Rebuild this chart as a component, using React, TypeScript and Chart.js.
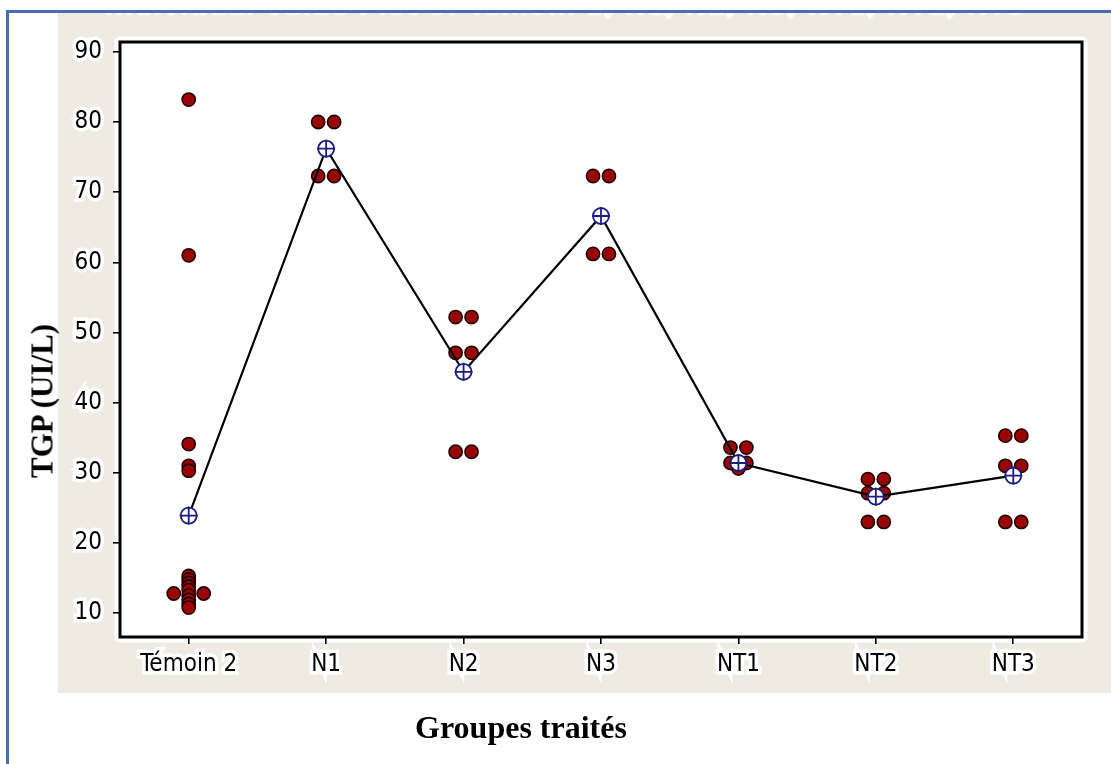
import React, { useEffect, useRef } from "react";
import { Chart, registerables } from "chart.js";

Chart.register(...registerables);

// Column names (one column per treated group)
const groups = ["Témoin 2", "N1", "N2", "N3", "NT1", "NT2", "NT3"];

// Individual TGP values (UI/L) per group
const temoin2 = [83.2, 61.0, 34.1, 31.0, 30.3, 15.3, 14.8, 14.3, 13.8, 13.3, 12.8, 12.8, 12.5, 11.9, 11.3, 10.8];
const n1 = [80.0, 80.0, 72.3, 72.3];
const n2 = [52.2, 52.2, 47.1, 47.1, 33.0, 33.0];
const n3 = [72.3, 72.3, 61.2, 61.2];
const nt1 = [33.6, 33.6, 31.4, 31.4, 30.6];
const nt2 = [29.1, 29.1, 27.1, 27.1, 23.0, 23.0];
const nt3 = [35.3, 35.3, 31.0, 31.0, 23.0, 23.0];

// Group means joined by the connect line
const groupMeans = [23.9, 76.2, 44.4, 66.6, 31.4, 26.6, 29.6];

// Axis
const yTicks = [10, 20, 30, 40, 50, 60, 70, 80, 90];
const yMin = 6.6;
const yMax = 91.4;

const groupValues = [temoin2, n1, n2, n3, nt1, nt2, nt3];

// Horizontal spread for tied values (in category units)
const NARROW = 0.058;
const WIDE = 0.109;

function spreadGroup(values: number[], gi: number) {
  const counts = new Map<number, number>();
  values.forEach((v) => counts.set(v, (counts.get(v) || 0) + 1));
  const singles = values.filter((v) => counts.get(v) === 1);
  const seen = new Map<number, number>();
  return values.map((v) => {
    const n = counts.get(v) as number;
    if (n === 1) return { x: gi, y: v };
    const k = seen.get(v) || 0;
    seen.set(v, k + 1);
    const crowded = singles.filter((s) => Math.abs(s - v) < 3).length >= 2;
    const step = crowded ? WIDE : NARROW;
    return { x: gi + (k - (n - 1) / 2) * 2 * step, y: v };
  });
}

const TICK_FONT = "'DejaVu Sans Condensed', Roboto, 'DejaVu Sans', sans-serif";
const SERIF = "'Liberation Serif', 'Times New Roman', serif";
const BEIGE = "#efebe2";
const NAVY = "#1c1c82";

const plotFrame = {
  id: "plotFrame",
  beforeDraw(chart: any) {
    const { ctx, chartArea } = chart;
    const { left, top, right, bottom } = chartArea;
    ctx.save();
    ctx.lineJoin = "round";
    ctx.strokeStyle = "#ffffff";
    ctx.lineWidth = 11;
    ctx.strokeRect(left, top, right - left, bottom - top);
    ctx.fillStyle = "#ffffff";
    ctx.fillRect(left, top, right - left, bottom - top);
    ctx.restore();
  },
  afterDraw(chart: any) {
    const { ctx, chartArea } = chart;
    const { left, top, right, bottom } = chartArea;
    ctx.save();
    ctx.strokeStyle = "#000000";
    ctx.lineWidth = 3;
    ctx.strokeRect(left, top, right - left, bottom - top);
    ctx.restore();
  },
};

function IndividualValuePlot() {
  const canvasRef = useRef<HTMLCanvasElement | null>(null);

  useEffect(() => {
    const canvas = canvasRef.current;
    if (!canvas) return;

    const points = groupValues.flatMap((vals, gi) => spreadGroup(vals, gi));
    const means = groupMeans.map((m, i) => ({ x: i, y: m }));

    const chart = new Chart(canvas, {
      type: "scatter",
      data: {
        datasets: [
          {
            label: "Mean cross",
            data: means,
            pointStyle: "cross",
            pointRadius: 9,
            borderColor: NAVY,
            borderWidth: 1.8,
            order: 0,
          },
          {
            label: "Mean",
            data: means,
            pointStyle: "circle",
            pointRadius: 8,
            backgroundColor: "#ffffff",
            borderColor: NAVY,
            borderWidth: 1.8,
            order: 1,
          },
          {
            label: "Mean connect",
            data: means,
            showLine: true,
            pointRadius: 0,
            borderColor: "#000000",
            borderWidth: 2.2,
            order: 2,
          },
          {
            label: "TGP",
            data: points,
            pointStyle: "circle",
            pointRadius: 6.6,
            backgroundColor: "#9a0606",
            borderColor: "#220000",
            borderWidth: 1.6,
            order: 3,
          },
        ],
      },
      options: {
        responsive: false,
        animation: false,
        devicePixelRatio: 1,
        layout: { padding: { left: 0, top: 42, right: 29, bottom: 0 } },
        plugins: {
          legend: { display: false },
          tooltip: { enabled: false },
        },
        scales: {
          x: {
            type: "linear",
            min: -0.5,
            max: 6.5,
            afterBuildTicks: (s: any) => {
              s.ticks = groups.map((_, i) => ({ value: i }));
            },
            afterFit: (s: any) => {
              s.height = 127;
            },
            grid: {
              drawOnChartArea: false,
              drawTicks: true,
              tickLength: 7,
              color: "#000000",
              lineWidth: 1.6,
            },
            border: { display: false },
            ticks: {
              autoSkip: false,
              maxRotation: 0,
              padding: 6,
              color: "#000000",
              font: { family: TICK_FONT, size: 24, weight: "500" },
              textStrokeColor: "#ffffff",
              textStrokeWidth: 7,
              callback: (v: any) => groups[Math.round(Number(v))] ?? "",
            },
          },
          y: {
            type: "linear",
            min: yMin,
            max: yMax,
            afterBuildTicks: (s: any) => {
              s.ticks = yTicks.map((v) => ({ value: v }));
            },
            afterFit: (s: any) => {
              s.width = 120;
            },
            grid: {
              drawOnChartArea: false,
              drawTicks: true,
              tickLength: 7,
              color: "#000000",
              lineWidth: 1.6,
            },
            border: { display: false },
            ticks: {
              padding: 11,
              color: "#000000",
              font: { family: TICK_FONT, size: 24, weight: "500" },
              textStrokeColor: "#ffffff",
              textStrokeWidth: 7,
            },
          },
        },
      },
      plugins: [plotFrame],
    } as any);

    return () => chart.destroy();
  }, []);

  return (
    <canvas
      ref={canvasRef}
      width={1111}
      height={764}
      style={{ position: "absolute", left: 0, top: 0, width: 1111, height: 764 }}
    />
  );
}

export default function App() {
  return (
    <div
      style={{
        position: "absolute",
        left: 0,
        top: 0,
        width: 1111,
        height: 764,
        background: "#ffffff",
        overflow: "hidden",
      }}
    >
      <div style={{ position: "absolute", left: 6, top: 10, width: 3, height: 760, background: "#4a6cb2" }} />
      <div style={{ position: "absolute", left: 6, top: 10, width: 1110, height: 2.5, background: "#4a6cb2" }} />
      <div
        style={{
          position: "absolute",
          left: 58,
          top: 13,
          width: 1060,
          height: 680,
          background: BEIGE,
          overflow: "hidden",
        }}
      >
        <div
          style={{
            position: "absolute",
            left: 46,
            top: -28,
            whiteSpace: "nowrap",
            fontFamily: "'DejaVu Sans', sans-serif",
            fontWeight: "bold",
            fontSize: 27,
            lineHeight: "27px",
            color: "#000000",
            textShadow:
              "0 2px 0 #fff, 0 4px 0 #fff, 0 6px 1px #fff, 2px 4px 1px #fff, -2px 4px 1px #fff, 0 7px 3px #fff",
          }}
        >
          Individual Value Plot of Témoin 2, N1, N2, N3, NT1, NT2, NT3
        </div>
      </div>
      <IndividualValuePlot />
      <div
        style={{
          position: "absolute",
          left: 42,
          top: 401,
          transform: "translate(-50%, -50%) rotate(-90deg)",
          whiteSpace: "nowrap",
          fontFamily: SERIF,
          fontWeight: "bold",
          fontSize: 31,
          lineHeight: "31px",
          color: "#000000",
        }}
      >
        TGP (UI/L)
      </div>
      <div
        style={{
          position: "absolute",
          left: 521,
          top: 711,
          transform: "translateX(-50%)",
          whiteSpace: "nowrap",
          fontFamily: SERIF,
          fontWeight: "bold",
          fontSize: 32,
          lineHeight: "32px",
          color: "#000000",
        }}
      >
        Groupes traités
      </div>
    </div>
  );
}
